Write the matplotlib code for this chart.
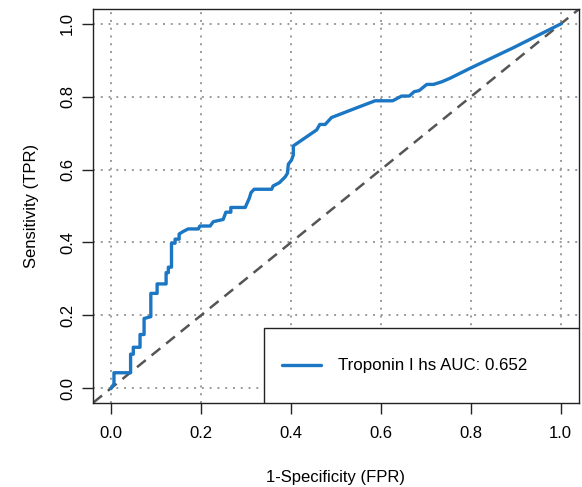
import numpy as np
import matplotlib
matplotlib.use('Agg')
import matplotlib.pyplot as plt
from matplotlib.patches import Rectangle

plt.rcParams['font.family'] = ['Liberation Sans', 'DejaVu Sans']

# ROC curve vertices (FPR, TPR)
fpr = [0.000, 0.006, 0.006, 0.043, 0.043, 0.049, 0.049, 0.064, 0.064, 0.073,
       0.073, 0.088, 0.088, 0.102, 0.102, 0.122, 0.122, 0.127, 0.127, 0.134,
       0.134, 0.142, 0.142, 0.151, 0.151, 0.160, 0.171, 0.194, 0.197, 0.220,
       0.227, 0.249, 0.255, 0.266, 0.266, 0.298, 0.307, 0.311, 0.318, 0.357,
       0.360, 0.374, 0.387, 0.392, 0.394, 0.401, 0.405, 0.405, 0.457, 0.464,
       0.476, 0.490, 0.553, 0.587, 0.626, 0.646, 0.663, 0.674, 0.685, 0.702,
       0.717, 0.735, 0.754, 0.798, 0.895, 1.000]
tpr = [0.000, 0.012, 0.042, 0.042, 0.093, 0.093, 0.112, 0.112, 0.147, 0.147,
       0.191, 0.196, 0.260, 0.260, 0.286, 0.286, 0.317, 0.317, 0.332, 0.332,
       0.398, 0.398, 0.409, 0.409, 0.423, 0.430, 0.437, 0.437, 0.445, 0.445,
       0.457, 0.463, 0.483, 0.483, 0.496, 0.496, 0.521, 0.537, 0.546, 0.546,
       0.555, 0.564, 0.580, 0.590, 0.615, 0.626, 0.640, 0.665, 0.709, 0.724,
       0.724, 0.743, 0.773, 0.789, 0.789, 0.802, 0.802, 0.814, 0.817, 0.834,
       0.834, 0.841, 0.851, 0.878, 0.935, 1.000]
label = 'Troponin I hs AUC: 0.652'
ticks = [0.0, 0.2, 0.4, 0.6, 0.8, 1.0]

fig = plt.figure(figsize=(5.82, 4.87), dpi=100)
ax = fig.add_axes([0.1603, 0.1733, 0.8340, 0.8074])

ax.set_xlim(-0.04, 1.04)
ax.set_ylim(-0.04, 1.04)
ax.set_xticks(ticks)
ax.set_yticks(ticks)
ax.set_xticklabels(['%.1f' % t for t in ticks])
ax.set_yticklabels(['%.1f' % t for t in ticks], rotation=90, va='center')
ax.tick_params(direction='out', length=8, width=1.0, labelsize=12, color='#222222')
ax.tick_params(axis='x', pad=9)
ax.tick_params(axis='y', pad=5)

ax.grid(True, color='#9a9a9a', linestyle=(0, (1, 3)), linewidth=1.4)
ax.set_axisbelow(True)

# chance line
ax.axline((0, 0), (1, 1), color='#555555', linestyle=(0, (4.5, 3)), linewidth=1.8)

ax.plot(fpr, tpr, color='#1b76c4', linewidth=2.4, solid_joinstyle='round')

for s in ax.spines.values():
    s.set_linewidth(1.0)
    s.set_color('#222222')

ax.set_xlabel('1-Specificity (FPR)', fontsize=12, labelpad=21)
ax.set_ylabel('Sensitivity (TPR)', fontsize=12, labelpad=15)

# legend box, bottom right
ax.add_patch(Rectangle((0.352, 0.0), 0.648, 0.190, transform=ax.transAxes,
                       facecolor='white', edgecolor='#222222', linewidth=1.0, zorder=5))
ax.plot([0.388, 0.469], [0.0956, 0.0956], transform=ax.transAxes,
        color='#1b76c4', linewidth=2.4, zorder=6, solid_capstyle='round')
ax.text(0.505, 0.0956, label, transform=ax.transAxes, fontsize=12.2,
        va='center', ha='left', zorder=6)

fig.savefig('out.png', dpi=100)
